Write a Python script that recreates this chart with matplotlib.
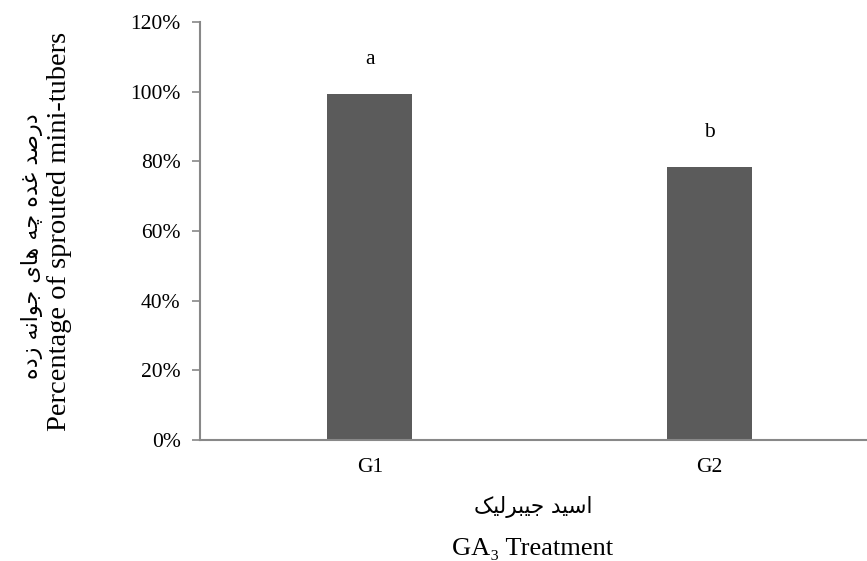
import matplotlib
matplotlib.use("Agg")
import matplotlib.pyplot as plt
from matplotlib.ticker import PercentFormatter

treatments = ["G1", "G2"]
sprouted = [0.993, 0.783]
letters = ["a", "b"]
yticks = [0, 0.2, 0.4, 0.6, 0.8, 1.0, 1.2]

# matplotlib does no arabic shaping, so map letters to presentation forms
FORMS = {
    'ا': ('\uFE8D', '\uFE8E'),
    'د': ('\uFEA9', '\uFEAA'),
    'ر': ('\uFEAD', '\uFEAE'),
    'ز': ('\uFEAF', '\uFEB0'),
    'و': ('\uFEED', '\uFEEE'),
    'ب': ('\uFE8F', '\uFE90', '\uFE91', '\uFE92'),
    'ج': ('\uFE9D', '\uFE9E', '\uFE9F', '\uFEA0'),
    'چ': ('\uFB7A', '\uFB7B', '\uFB7C', '\uFB7D'),
    'س': ('\uFEB1', '\uFEB2', '\uFEB3', '\uFEB4'),
    'ص': ('\uFEB9', '\uFEBA', '\uFEBB', '\uFEBC'),
    'غ': ('\uFECD', '\uFECE', '\uFECF', '\uFED0'),
    'ک': ('\uFB8E', '\uFB8F', '\uFB90', '\uFB91'),
    'ل': ('\uFEDD', '\uFEDE', '\uFEDF', '\uFEE0'),
    'ن': ('\uFEE5', '\uFEE6', '\uFEE7', '\uFEE8'),
    'ه': ('\uFEE9', '\uFEEA', '\uFEEB', '\uFEEC'),
    'ی': ('\uFBFC', '\uFBFD', '\uFBFE', '\uFBFF'),
}

def shape(text):
    out = []
    for i, ch in enumerate(text):
        f = FORMS.get(ch)
        if f is None:
            out.append(ch)
            continue
        prev = text[i-1] if i > 0 else ''
        nxt = text[i+1] if i + 1 < len(text) else ''
        join_prev = prev in FORMS and len(FORMS[prev]) == 4
        join_next = len(f) == 4 and nxt in FORMS
        if join_prev and join_next:
            out.append(f[3])
        elif join_prev:
            out.append(f[1])
        elif join_next:
            out.append(f[2])
        else:
            out.append(f[0])
    return ''.join(out[::-1])

serif = ["Liberation Serif", "DejaVu Serif"]
arabic = ["DejaVu Sans"]

fig = plt.figure(figsize=(8.67, 5.61), dpi=100)
ax = fig.add_axes([200/867, 121/561, 667/867, 418/561])

x = range(len(treatments))
ax.bar(x, sprouted, width=0.25, color="#5b5b5b", zorder=2)
for xi, v, l in zip(x, sprouted, letters):
    ax.text(xi, v + 0.1, l, ha="center", va="center", fontsize=15.5, family=serif)

ax.set_xlim(-0.5, 1.465)
ax.set_ylim(0, 1.2)
ax.set_yticks(yticks)
ax.yaxis.set_major_formatter(PercentFormatter(1.0, decimals=0))
ax.set_xticks(list(x))
ax.set_xticklabels(treatments)
for lab in ax.get_xticklabels() + ax.get_yticklabels():
    lab.set_family(serif)
    lab.set_fontsize(15.5)
ax.tick_params(axis="x", length=0, pad=13)
ax.tick_params(axis="y", length=6, width=1.2, color="#888888", pad=8)

for s in ["top", "right"]:
    ax.spines[s].set_visible(False)
for s in ["left", "bottom"]:
    ax.spines[s].set_color("#888888")
    ax.spines[s].set_linewidth(1.5)

fig.text(59/867, 1 - 231/561, "Percentage of sprouted mini-tubers", rotation=90,
         ha="center", va="center", fontsize=20.5, family=serif)
fig.text(32/867, 1 - 246/561, shape("درصد غده چه های جوانه زده"), rotation=90,
         ha="center", va="center", fontsize=16, family=arabic)
fig.text(533/867, 1 - 507/561, shape("اسید جیبرلیک"),
         ha="center", va="center", fontsize=15.5, family=arabic)
fig.text(533/867, 1 - 549/561, "GA\u2083 Treatment",
         ha="center", va="center", fontsize=19, family=serif)

fig.savefig("out.png", dpi=100)
